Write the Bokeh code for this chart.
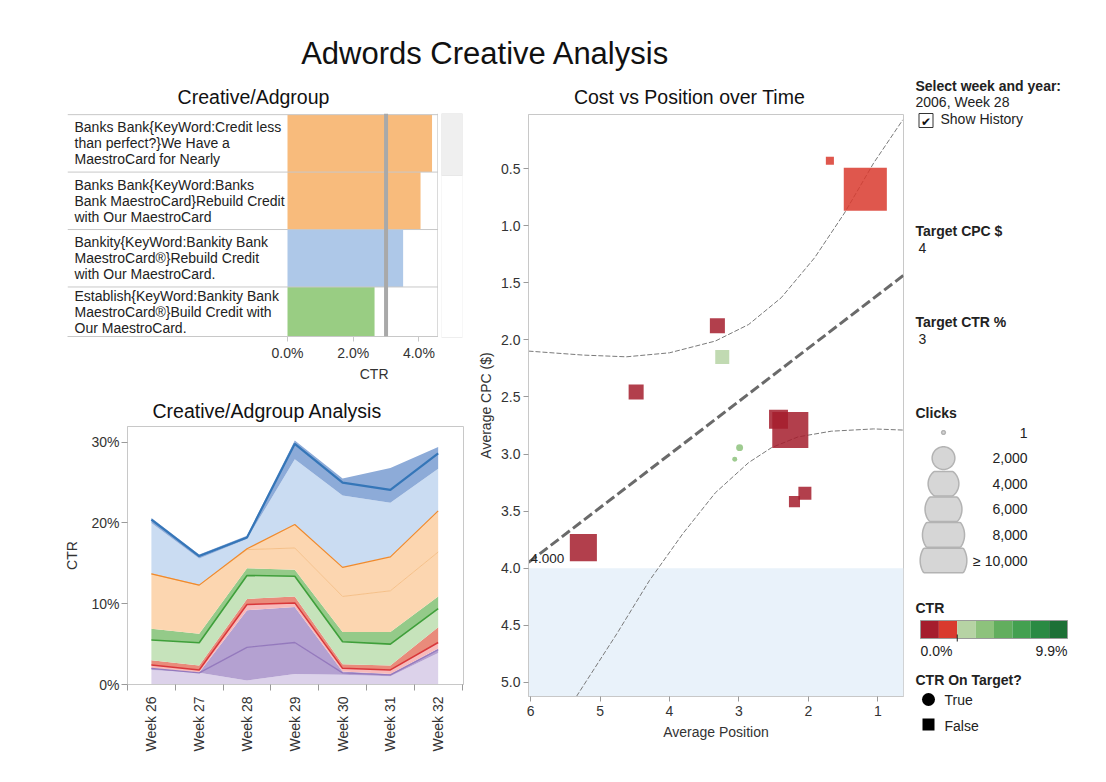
import math
from bokeh.plotting import figure
from bokeh.layouts import row, column
from bokeh.models import (Range1d, FixedTicker, SingleIntervalTicker, PrintfTickFormatter,
                          Span, BoxAnnotation, Label, ColumnDataSource, LinearColorMapper)
from bokeh.transform import transform, stack
from bokeh.core.properties import value
from bokeh.embed import file_html
from bokeh.resources import INLINE

FONT = "Liberation Sans"

# ------------------------------------------------------------------ data
MAIN_TITLE = "Adwords Creative Analysis"
BAR_TITLE = "Creative/Adgroup"
AREA_TITLE = "Creative/Adgroup Analysis"
SCATTER_TITLE = "Cost vs Position over Time"

TARGET_CPC = 4
TARGET_CTR = 3
SELECTED_WEEK = "2006, Week 28"

creatives = [
    "Banks Bank{KeyWord:Credit less\nthan perfect?}We Have a\nMaestroCard for Nearly",
    "Banks Bank{KeyWord:Banks\nBank MaestroCard}Rebuild Credit\nwith Our MaestroCard",
    "Bankity{KeyWord:Bankity Bank\nMaestroCard\u00ae}Rebuild Credit\nwith Our MaestroCard.",
    "Establish{KeyWord:Bankity Bank\nMaestroCard\u00ae}Build Credit with\nOur MaestroCard.",
]
creative_ctr = [4.40, 4.05, 3.52, 2.65]
creative_ticks = [0, 2, 4]

weeks = ["Week 26", "Week 27", "Week 28", "Week 29", "Week 30", "Week 31", "Week 32"]
# stacked CTR layers (%), bottom to top
ctr_lavender    = [1.80, 1.44, 0.50, 1.30, 1.20, 1.03, 3.90]
ctr_purple_a    = [0.20, 0.00, 4.10, 3.90, 0.24, 0.17, 0.40]
ctr_purple_b    = [0.05, 0.06, 4.60, 4.40, 0.16, 0.10, 0.15]
ctr_pink        = [0.35, 0.30, 0.70, 0.50, 0.40, 0.50, 0.75]
ctr_salmon      = [0.60, 0.55, 0.70, 0.80, 0.50, 0.55, 1.90]
ctr_light_green = [2.50, 2.81, 2.90, 2.50, 2.80, 2.65, 2.30]
ctr_green       = [1.40, 1.11, 0.90, 0.80, 1.20, 1.50, 1.50]
ctr_peach_a     = [6.80, 6.03, 2.30, 2.70, 4.40, 5.10, 5.50]
ctr_peach_b     = [0.00, 0.00, 0.10, 2.90, 3.60, 4.20, 5.10]
ctr_light_blue  = [6.30, 3.30, 1.20, 8.10, 8.90, 6.70, 5.20]
ctr_blue_a      = [0.40, 0.30, 0.20, 1.90, 1.60, 1.60, 1.90]
ctr_blue_b      = [0.20, 0.20, 0.20, 0.40, 0.50, 2.70, 0.80]
area_ticks = [0, 10, 20, 30]

# scatter points
avg_position = [1.69, 1.18, 3.31, 3.24, 4.48, 2.43, 2.26, 2.99, 3.06, 2.05, 2.20, 5.24]
avg_cpc      = [0.43, 0.68, 1.875, 2.15, 2.457, 2.696, 2.79, 2.944, 3.046, 3.343, 3.417, 3.82]
clicks       = [120, 8400, 730, 610, 730, 1300, 5700, 70, 15, 500, 320, 3000]
point_ctr    = [1.8, 1.6, 0.9, 2.7, 0.8, 0.7, 1.0, 4.2, 4.5, 0.9, 0.6, 1.1]

trend_position = [6.03, 0.63]
trend_cpc = [3.95, 1.434]
band_upper_position = [6.03, 5.24, 4.62, 4.0, 3.34, 2.86, 2.39, 1.91, 1.48, 1.06, 0.64]
band_upper_cpc = [2.098, 2.133, 2.148, 2.113, 2.01, 1.865, 1.63, 1.28, 0.888, 0.45, 0.071]
band_lower_position = [5.34, 4.76, 4.29, 3.81, 3.34, 2.86, 2.53, 2.15, 1.67, 1.06, 0.64]
band_lower_cpc = [5.125, 4.577, 4.11, 3.70, 3.34, 3.075, 2.944, 2.85, 2.80, 2.78, 2.79]

# legends
legend_clicks = [1, 2000, 4000, 6000, 8000, 10000]
legend_click_labels = ["1", "2,000", "4,000", "6,000", "8,000", "\u2265 10,000"]
CTR_LOW, CTR_HIGH = 0.0, 9.9
on_target_labels = ["True", "False"]

# ------------------------------------------------------------------ styles
creative_colors = ["#f8bb7c", "#f8bb7c", "#aec8e8", "#99cd83"]
layer_fills = ["#dcd2ea", "#b4a1d1", "#b4a1d1", "#f7babb", "#e98b7b", "#c6e3bb",
               "#94ca89", "#fcd6b0", "#fcd6b0", "#cadcf2", "#8dabd8", "#8dabd8"]
# (layer index whose top gets a line, colour, width)
layer_lines = [(1, "#9479bd", 1.3), (3, "#d9373a", 1.5), (5, "#3f9f3a", 1.6),
               (7, "#f5c089", 1.0), (8, "#f08a2c", 1.2), (10, "#3576b8", 2.2)]
CTR_PALETTE = ["#a51d2d", "#d93a2e", "#b6d3a4", "#8dc27c", "#62ae5e", "#43a050",
               "#2a8a43", "#1d7036"]
BORDER = "#c8c8c8"
TICK = "#9a9a9a"
TXT = "#222222"
FS = 14


def size_of(c):
    return 3.3 + 0.434 * math.sqrt(c)


def bare(p):
    p.grid.visible = False
    p.outline_line_color = None
    p.background_fill_color = "white"
    p.border_fill_color = "white"


def style_axis(ax, standoff=3, label_standoff=5):
    ax.major_label_text_font = FONT
    ax.major_label_text_font_size = f"{FS}px"
    ax.major_label_text_color = "#333333"
    ax.axis_label_text_font = FONT
    ax.axis_label_text_font_size = f"{FS}px"
    ax.axis_label_text_font_style = "normal"
    ax.axis_label_text_color = "#333333"
    ax.axis_line_color = BORDER
    ax.major_tick_line_color = TICK
    ax.major_tick_in = 0
    ax.major_tick_out = 5
    ax.minor_tick_line_color = None
    ax.major_label_standoff = standoff
    ax.axis_label_standoff = label_standoff


def txt(p, x, y, s, size=FS, bold=False, align="left", color=TXT, font=FONT):
    p.text(x=[x], y=[y], text=[s], text_font=value(font), text_font_size=value(f"{size}px"),
           text_font_style="bold" if bold else "normal", text_align=align,
           text_baseline="middle", text_color=color)


# ------------------------------------------------------------------ top titles
T = figure(width=905, height=113, x_range=Range1d(0, 905), y_range=Range1d(113, 0),
           toolbar_location=None, output_backend="svg", min_border=0,
           x_axis_location=None, y_axis_location=None)
bare(T)
txt(T, 485, 53, MAIN_TITLE, size=31, align="center", color="#111111")
txt(T, 253, 96, BAR_TITLE, size=19.5, align="center", color="#111111")
txt(T, 689, 96, SCATTER_TITLE, size=19.5, align="center", color="#111111")

# ------------------------------------------------------------------ bar chart (labels + bars)
ROWS_VISIBLE = 224 / 58.0
rows_idx = [i + 0.5 for i in range(len(creatives))]
# label of each row centred in the visible part of its row
label_y = [(i + min(i + 1, ROWS_VISIBLE)) / 2 for i in range(len(creatives))]
PX_PER_PCT = 32.85
X0 = -220 / PX_PER_PCT          # label column to the left of 0 %
X1 = 151 / PX_PER_PCT

M = figure(width=438, height=250, x_range=Range1d(X0, X1), y_range=Range1d(ROWS_VISIBLE, -0.02),
           toolbar_location=None, output_backend="svg", min_border_left=67, min_border_right=0,
           min_border_top=0, min_border_bottom=26, x_axis_location="below", y_axis_location=None)
bare(M)
M.hbar(y=rows_idx, height=1.0, left=0, right=creative_ctr, fill_color=creative_colors,
       line_color=None)
M.text(x=[X0 + 7 / PX_PER_PCT] * len(creatives), y=label_y, text=creatives,
       text_font=value(FONT), text_font_size=value(f"{FS}px"), text_align="left",
       text_baseline="middle", text_color=TXT, text_line_height=1.0)
for b in range(len(creatives)):
    M.add_layout(Span(location=b, dimension="width", line_color=BORDER, line_width=1))
M.add_layout(Span(location=X1 - 0.02, dimension="height", line_color=BORDER, line_width=1))
M.add_layout(Span(location=TARGET_CTR, dimension="height", line_color="#a9a9a9", line_width=4))
M.xaxis.ticker = FixedTicker(ticks=creative_ticks)
M.xaxis.formatter = PrintfTickFormatter(format="%.1f%%")
style_axis(M.xaxis, standoff=3)
M.xaxis.major_tick_line_color = BORDER

# axis title of the bar chart, centred under the bar columns
C = figure(width=438, height=27, x_range=Range1d(0, 438), y_range=Range1d(27, 0),
           toolbar_location=None, output_backend="svg", min_border=0,
           x_axis_location=None, y_axis_location=None)
bare(C)
txt(C, 362, 10, "CTR", color="#333333", align="center")

S = figure(width=37, height=277, x_range=Range1d(0, 1), y_range=Range1d(277 / 58.0, 0),
           toolbar_location=None, output_backend="svg", min_border_left=3, min_border_right=13,
           min_border_top=0, min_border_bottom=0, x_axis_location=None, y_axis_location=None)
bare(S)
S.add_layout(BoxAnnotation(top=0, bottom=ROWS_VISIBLE, fill_color="white", fill_alpha=1,
                           line_color=BORDER, line_width=1))
S.add_layout(BoxAnnotation(top=0, bottom=62 / 58.0, fill_color="#efefef", fill_alpha=1,
                           line_color=BORDER, line_width=1))

bars_row = row(column(M, C, spacing=0), S, spacing=0)

# ------------------------------------------------------------------ stacked area
layers = [ctr_lavender, ctr_purple_a, ctr_purple_b, ctr_pink, ctr_salmon, ctr_light_green,
          ctr_green, ctr_peach_a, ctr_peach_b, ctr_light_blue, ctr_blue_a, ctr_blue_b]
names = [f"s{i}" for i in range(len(layers))]
adata = {"x": list(range(len(weeks)))}
for n, v in zip(names, layers):
    adata[n] = v
asrc = ColumnDataSource(adata)

A = figure(width=475, height=376, x_range=Range1d(-0.5, 6.53), y_range=Range1d(0, 31.94),
           toolbar_location=None, output_backend="svg", min_border_left=127, min_border_right=12,
           min_border_top=36, min_border_bottom=82)
bare(A)
A.outline_line_color = BORDER
A.title.text = AREA_TITLE
A.title.align = "left"
A.title.offset = 25
A.title.text_font = FONT
A.title.text_font_size = "19.5px"
A.title.text_font_style = "normal"
A.title.text_color = "#111111"
A.varea_stack(stackers=names, x="x", color=layer_fills, source=asrc)
for idx, col, w in layer_lines:
    A.line(x="x", y=stack(*names[:idx + 1]), line_color=col, line_width=w, source=asrc)
A.yaxis.ticker = FixedTicker(ticks=area_ticks)
A.yaxis.formatter = PrintfTickFormatter(format="%d%%")
A.yaxis.axis_label = "CTR"
style_axis(A.yaxis, standoff=2, label_standoff=8)
A.yaxis.major_tick_out = 6
A.xaxis.ticker = FixedTicker(ticks=list(range(len(weeks))),
                             minor_ticks=[i - 0.5 for i in range(len(weeks) + 1)])
A.xaxis.major_label_overrides = {i: w for i, w in enumerate(weeks)}
style_axis(A.xaxis, standoff=6)
A.xaxis.major_label_orientation = math.pi / 2
A.xaxis.major_tick_line_color = None
A.xaxis.major_tick_out = 0
A.xaxis.minor_tick_line_color = TICK
A.xaxis.minor_tick_in = 0
A.xaxis.minor_tick_out = 6

left_col = column(bars_row, A, spacing=0)

# ------------------------------------------------------------------ scatter
mapper = LinearColorMapper(palette=CTR_PALETTE, low=CTR_LOW, high=CTR_HIGH)
ssrc = ColumnDataSource(dict(
    pos=avg_position, cpc=avg_cpc, ctr=point_ctr,
    size=[size_of(c) for c in clicks],
    marker=["circle" if c >= TARGET_CTR else "square" for c in point_ctr],
))

P = figure(width=430, height=653, x_range=Range1d(6.03, 0.63), y_range=Range1d(5.125, 0.0245),
           toolbar_location=None, output_backend="svg", min_border_left=49, min_border_right=2,
           min_border_top=1, min_border_bottom=70)
bare(P)
P.outline_line_color = BORDER
P.add_layout(BoxAnnotation(top=TARGET_CPC, fill_color="#e9f2fa", fill_alpha=1, line_color=None,
                           level="underlay"))
P.line(band_upper_position, band_upper_cpc, line_color="#7a7a7a", line_width=1, line_dash="5 2")
P.line(band_lower_position, band_lower_cpc, line_color="#7a7a7a", line_width=1, line_dash="5 2")
P.line(trend_position, trend_cpc, line_color="#6a6a6a", line_width=3, line_dash="10 4")
P.scatter(x="pos", y="cpc", size="size", marker="marker", fill_color=transform("ctr", mapper),
          fill_alpha=0.85, line_color=None, source=ssrc)
P.add_layout(Label(x=6.03, y=TARGET_CPC, text=f"{TARGET_CPC:.3f}", x_offset=2, y_offset=5,
                   text_baseline="bottom", text_font=FONT, text_font_size="13.5px",
                   text_color="#222222"))
P.yaxis.ticker = SingleIntervalTicker(interval=0.5)
P.yaxis.formatter = PrintfTickFormatter(format="%.1f")
P.yaxis.axis_label = "Average CPC ($)"
style_axis(P.yaxis, standoff=3, label_standoff=4)
P.xaxis.ticker = SingleIntervalTicker(interval=1)
P.xaxis.formatter = PrintfTickFormatter(format="%d")
P.xaxis.axis_label = "Average Position"
style_axis(P.xaxis, standoff=4, label_standoff=5)

# ------------------------------------------------------------------ right panel
R = figure(width=185, height=766, x_range=Range1d(905, 1090), y_range=Range1d(766, 0),
           toolbar_location=None, output_backend="svg", min_border=0,
           x_axis_location=None, y_axis_location=None)
bare(R)
txt(R, 915, 85, "Select week and year:", bold=True)
txt(R, 915, 101, SELECTED_WEEK)
R.rect(x=[925.5], y=[120], width=14, height=14, fill_color="white", line_color="#333333",
       line_width=1)
txt(R, 925.5, 121, "\u2714", size=12, align="center", color="#111111", font="DejaVu Sans")
txt(R, 940, 118, "Show History")
txt(R, 915, 230, "Target CPC $", bold=True)
txt(R, 918, 247, str(TARGET_CPC))
txt(R, 915, 321, "Target CTR %", bold=True)
txt(R, 918, 338, str(TARGET_CTR))

txt(R, 915, 412, "Clicks", bold=True)
cx, cy0, step = 943, 432, 25.6
half = 12.3
xs, ys = [], []
for i, c in enumerate(legend_clicks):
    r = size_of(c) / 2
    cy = cy0 + i * step
    px, py = [], []
    for k in range(72):
        t = 2 * math.pi * k / 72
        px.append(cx + r * math.cos(t))
        py.append(cy + max(-half, min(half, r * math.sin(t))))
    xs.append(px)
    ys.append(py)
R.patches(xs, ys, fill_color="#d6d6d6", line_color="#b3b3b3", line_width=1.5)
R.text(x=[1027] * len(legend_clicks), y=[cy0 + i * step for i in range(len(legend_clicks))],
       text=legend_click_labels, text_font=value(FONT), text_font_size=value(f"{FS}px"),
       text_align="right", text_baseline="middle", text_color=TXT)

txt(R, 915, 607, "CTR", bold=True)
bar_l, bar_r = 920, 1067
bw = (bar_r - bar_l) / len(CTR_PALETTE)
R.quad(left=[bar_l + i * bw for i in range(len(CTR_PALETTE))],
       right=[bar_l + (i + 1) * bw for i in range(len(CTR_PALETTE))],
       top=620, bottom=638, fill_color=CTR_PALETTE, line_color=None)
R.rect(x=[(bar_l + bar_r) / 2], y=[629], width=bar_r - bar_l, height=18, fill_color=None,
       line_color="#9a9a9a", line_width=1)
edge = bar_l + (bar_r - bar_l) * 2 / len(CTR_PALETTE)
R.segment(x0=[edge], y0=[634], x1=[edge], y1=[641], line_color="#222222", line_width=1)
txt(R, bar_l, 650, f"{CTR_LOW:.1f}%")
txt(R, bar_r, 650, f"{CTR_HIGH:.1f}%", align="right")

txt(R, 915, 679, "CTR On Target?", bold=True)
R.scatter(x=[928, 928], y=[699, 724], marker=["circle", "square"], size=[13, 12],
          fill_color="black", line_color=None)
R.text(x=[944, 944], y=[699, 725], text=on_target_labels, text_font=value(FONT),
       text_font_size=value(f"{FS}px"), text_align="left", text_baseline="middle", text_color=TXT)

# ------------------------------------------------------------------ layout
main = row(column(T, row(left_col, P, spacing=0), spacing=0), R, spacing=0)
open("out.html", "w").write(file_html(main, INLINE))
